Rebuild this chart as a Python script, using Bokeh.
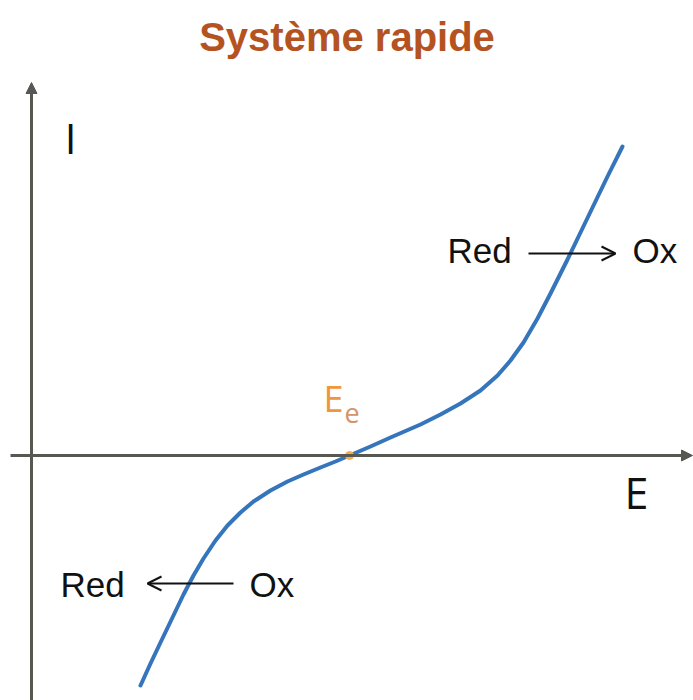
from bokeh.plotting import figure
from bokeh.models import Range1d, Arrow, NormalHead, OpenHead
from bokeh.core.properties import value
from bokeh.embed import file_html
from bokeh.resources import INLINE

# Curve I = f(E) for a fast redox system (arbitrary units)
E_vals = [10.9, 11.9, 12.9, 14.1, 15.2, 16.2, 17.2, 18.4, 19.6, 20.9, 22.2, 23.9, 25.6, 27.2,
          28.9, 30.4, 31.8, 33.9, 35.9, 38.9, 40.9, 42.9, 44.9, 46.6, 47.9, 49.2, 50.6, 51.9,
          53.6, 54.9, 56.2, 57.6, 59.1]
I_vals = [-23.0, -20.8, -18.7, -16.2, -13.9, -12.0, -10.3, -8.5, -7.0, -5.7, -4.6, -3.5, -2.6, -1.9,
          -1.2, -0.6, 0.0, 0.9, 1.8, 3.1, 4.1, 5.2, 6.5, 8.0, 9.5, 11.3, 13.7, 16.2,
          19.6, 22.3, 25.0, 27.9, 30.9]
E_eq = [31.8]
I_eq = [0.0]

title_text = "Système rapide"
axis_labels = ["I", "E"]
ox_label = "Ox"
red_label = "Red"

p = figure(width=693, height=700, output_backend="svg", toolbar_location=None,
           x_range=Range1d(-3.1, 66.2), y_range=Range1d(-24.5, 45.5),
           min_border=0, min_border_left=0, min_border_right=0,
           min_border_top=0, min_border_bottom=0)
p.axis.visible = False
p.grid.visible = False
p.outline_line_color = None
p.background_fill_color = "white"
p.border_fill_color = "white"

axis_col = "#585852"
# Horizontal axis (E)
p.add_layout(Arrow(end=NormalHead(size=11, fill_color=axis_col, line_color=axis_col),
                   x_start=-2.1, y_start=0, x_end=66.1, y_end=0,
                   line_color=axis_col, line_width=3))
# Vertical axis (I)
p.add_layout(Arrow(end=NormalHead(size=11, fill_color=axis_col, line_color=axis_col),
                   x_start=0, y_start=-24.5, x_end=0, y_end=37.3,
                   line_color=axis_col, line_width=3))

# Curve
p.line(E_vals, I_vals, line_color="#3575BC", line_width=4, line_join="round", line_cap="round")

# Equilibrium point
p.scatter(E_eq, I_eq, size=8, fill_color="#F5AE4E", line_color="#F5AE4E")

# Title
p.text([31.55], [41.0], text=[title_text], text_font=value("Liberation Sans"),
       text_font_style="bold", text_font_size="40px", text_color="#B4531F",
       text_align="center", text_baseline="alphabetic", y_offset=-9)

# Axis labels
p.text([3.9], [30.0], text=[axis_labels[0]], text_font=value("Open Sans"),
       text_font_size="42px", text_color="#111111", text_align="center",
       text_baseline="alphabetic", y_offset=-18)
p.text([60.5], [-5.5], text=[axis_labels[1]], text_font=value("Open Sans"),
       text_font_size="43px", text_color="#111111", text_align="center",
       text_baseline="alphabetic", y_offset=-18)

# Ee label
p.text([29.2], [4.2], text=["E"], text_font=value("Open Sans"),
       text_font_size="36px", text_color="#F0963C", text_baseline="alphabetic", y_offset=-15)
p.text([31.3], [3.2], text=["e"], text_font=value("Open Sans"),
       text_font_size="27px", text_color="#D4956A", text_baseline="alphabetic", y_offset=-11)

# Oxidation (top right)
p.text([41.6], [19.2], text=[red_label], text_font=value("Liberation Sans"),
       text_font_size="35px", text_color="#111111", text_baseline="alphabetic", y_offset=-13)
p.text([60.1], [19.2], text=[ox_label], text_font=value("Liberation Sans"),
       text_font_size="35px", text_color="#111111", text_baseline="alphabetic", y_offset=-13)
p.add_layout(Arrow(end=OpenHead(size=14, line_color="#111111", line_width=2),
                   x_start=49.7, y_start=20.2, x_end=58.4, y_end=20.2,
                   line_color="#111111", line_width=2))

# Reduction (bottom left)
p.text([2.9], [-14.2], text=[red_label], text_font=value("Liberation Sans"),
       text_font_size="35px", text_color="#111111", text_baseline="alphabetic", y_offset=-13)
p.text([21.8], [-14.2], text=[ox_label], text_font=value("Liberation Sans"),
       text_font_size="35px", text_color="#111111", text_baseline="alphabetic", y_offset=-13)
p.add_layout(Arrow(end=OpenHead(size=14, line_color="#111111", line_width=2),
                   x_start=20.2, y_start=-12.8, x_end=11.6, y_end=-12.8,
                   line_color="#111111", line_width=2))

open("out.html", "w").write(file_html(p, INLINE))
